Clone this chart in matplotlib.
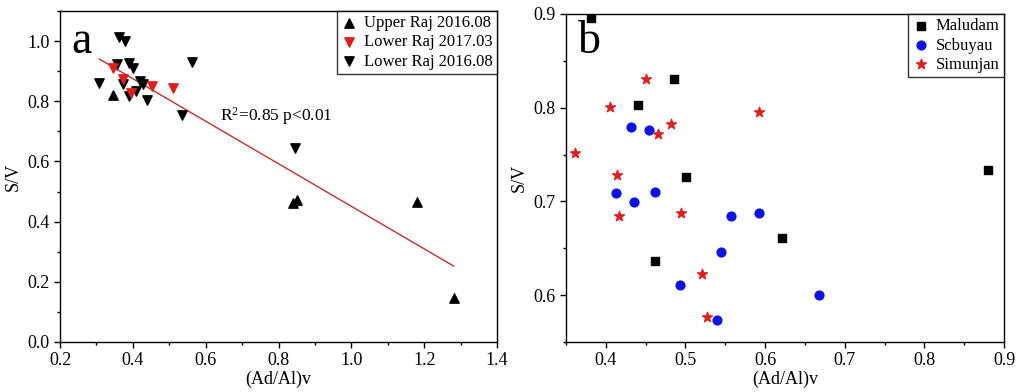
import numpy as np
import matplotlib as mpl
mpl.use('Agg')
import matplotlib.pyplot as plt
from matplotlib.ticker import MultipleLocator

mpl.rc('font', family='Liberation Serif', size=13)
mpl.rc('mathtext', fontset='custom', rm='Liberation Serif', it='Liberation Serif:italic')

# Panel a
upper_x = [0.345, 0.840, 0.851, 1.180, 1.281]
upper_y = [0.822, 0.463, 0.471, 0.466, 0.147]
lower17_x = [0.345, 0.372, 0.394, 0.452, 0.509]
lower17_y = [0.910, 0.875, 0.828, 0.852, 0.843]
lower16_x = [0.363, 0.379, 0.356, 0.389, 0.400, 0.308, 0.372, 0.420,
             0.427, 0.410, 0.390, 0.439, 0.534, 0.562, 0.844]
lower16_y = [1.015, 1.001, 0.924, 0.926, 0.909, 0.862, 0.857, 0.869,
             0.857, 0.835, 0.817, 0.804, 0.755, 0.929, 0.644]
fit_slope, fit_intercept = -0.707, 1.158

# Panel b
maludam_x = [0.381, 0.486, 0.441, 0.501, 0.880, 0.462, 0.621]
maludam_y = [0.896, 0.831, 0.803, 0.726, 0.734, 0.636, 0.661]
scbuyau_x = [0.431, 0.454, 0.413, 0.462, 0.436, 0.557, 0.592, 0.545, 0.493, 0.668, 0.540]
scbuyau_y = [0.779, 0.776, 0.709, 0.710, 0.699, 0.684, 0.688, 0.646, 0.611, 0.600, 0.573]
simunjan_x = [0.451, 0.405, 0.592, 0.482, 0.466, 0.361, 0.414, 0.416, 0.494, 0.521, 0.527]
simunjan_y = [0.831, 0.801, 0.795, 0.783, 0.772, 0.752, 0.728, 0.684, 0.688, 0.623, 0.577]

red = '#e01e1e'
blue = '#0a14e6'

fig = plt.figure(figsize=(10.16, 3.92), dpi=100)
ax1 = fig.add_axes([60/1016, 1 - 342/392, 437/1016, 331/392])
ax2 = fig.add_axes([566/1016, 1 - 342/392, 438/1016, 328/392])

legkw = dict(loc='upper right', frameon=True, fancybox=False, edgecolor='black',
             fontsize=12, handletextpad=0.4, borderaxespad=0, labelspacing=0.2,
             handlelength=1.0, borderpad=0.25)

ms = 45
ax1.scatter(upper_x, upper_y, marker='^', s=ms, color='black', label='Upper Raj 2016.08', zorder=3)
ax1.scatter(lower17_x, lower17_y, marker='v', s=ms, color=red, label='Lower Raj 2017.03', zorder=3)
ax1.scatter(lower16_x, lower16_y, marker='v', s=ms, color='black', label='Lower Raj 2016.08', zorder=2)

allx = np.concatenate([upper_x, lower17_x, lower16_x])
xx = np.array([allx.min(), allx.max()])
ax1.plot(xx, fit_intercept + fit_slope * xx, color='#c03030', lw=1, zorder=1)
ax1.text(0.64, 0.752, r'R$^{2}$=0.85 p<0.01', fontsize=12.5, va='center')
ax1.text(0.027, 0.873, 'a', transform=ax1.transAxes, fontsize=33, va='baseline')

ax1.set_xlim(0.2, 1.4)
ax1.set_ylim(0.0, 1.1)
ax1.xaxis.set_major_locator(MultipleLocator(0.2))
ax1.xaxis.set_minor_locator(MultipleLocator(0.1))
ax1.yaxis.set_major_locator(MultipleLocator(0.2))
ax1.yaxis.set_minor_locator(MultipleLocator(0.1))
ax1.set_xlabel('(Ad/Al)v', labelpad=1)
ax1.set_ylabel('S/V', labelpad=4)
ax1.legend(**legkw).get_frame().set_linewidth(1)

ax2.scatter(maludam_x, maludam_y, marker='s', s=35, color='black', label='Maludam', zorder=3)
ax2.scatter(scbuyau_x, scbuyau_y, marker='o', s=40, color=blue, label='Scbuyau', zorder=3)
ax2.scatter(simunjan_x, simunjan_y, marker='*', s=55, color=red, label='Simunjan', zorder=3)
ax2.text(0.027, 0.881, 'b', transform=ax2.transAxes, fontsize=33, va='baseline')

ax2.set_xlim(0.35, 0.9)
ax2.set_ylim(0.55, 0.9)
ax2.xaxis.set_major_locator(MultipleLocator(0.1))
ax2.xaxis.set_minor_locator(MultipleLocator(0.05))
ax2.yaxis.set_major_locator(MultipleLocator(0.1))
ax2.yaxis.set_minor_locator(MultipleLocator(0.05))
ax2.set_xlabel('(Ad/Al)v', labelpad=1)
ax2.set_ylabel('S/V', labelpad=4)
ax2.legend(**legkw).get_frame().set_linewidth(1)

for ax in (ax1, ax2):
    ax.tick_params(which='major', direction='out', length=4, width=1, labelsize=13)
    ax.tick_params(which='minor', direction='out', length=2.5, width=1)
    for sp in ax.spines.values():
        sp.set_linewidth(1)

fig.savefig('out.png', dpi=100)
